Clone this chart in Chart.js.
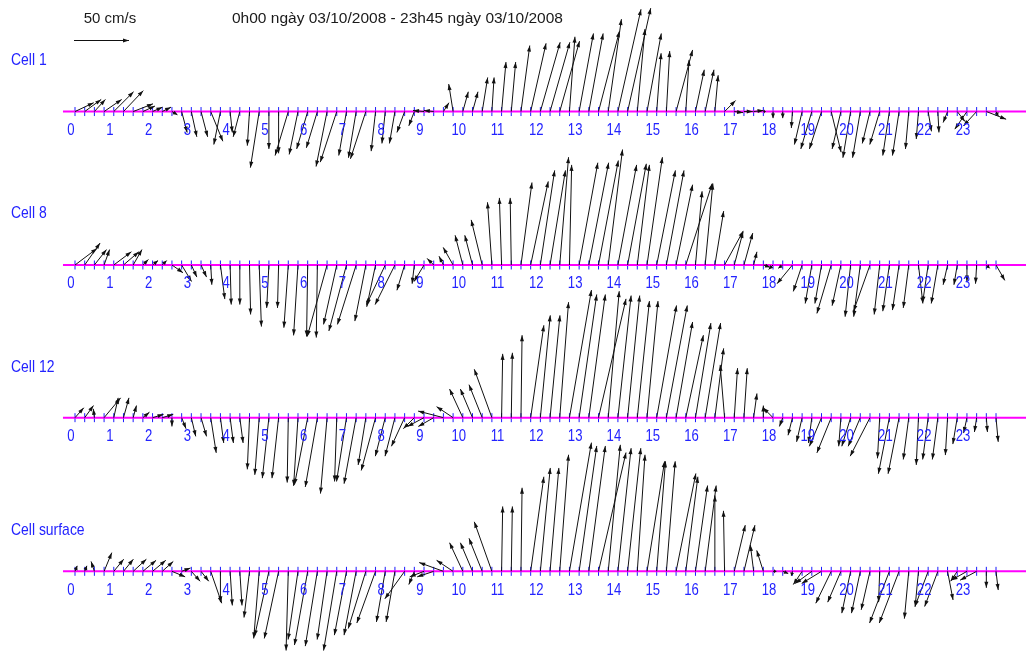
<!DOCTYPE html>
<html>
<head>
<meta charset="utf-8">
<script src="https://cdn.jsdelivr.net/npm/chart.js@4/dist/chart.umd.min.js"></script>
<style>
  html, body { margin: 0; padding: 0; background: #fff; }
</style>
</head>
<body>
<canvas id="chart" width="1026" height="651"></canvas>
<script>
// one sample every 15 minutes, 0h00 .. 23h45 (hours)
const times = Array.from({length: 96}, (_, i) => i / 4);
const hourLabels = ['0','1','2','3','4','5','6','7','8','9','10','11','12','13','14','15','16','17','18','19','20','21','22','23'];
const cellNames = ['Cell 1', 'Cell 8', 'Cell 12', 'Cell surface'];
const title = '0h00 ngày 03/10/2008 - 23h45 ngày 03/10/2008';
const refSpeed = 50; // cm/s

// east (u) and north (v) components, cm/s
const uCell1 = [17,15,10,16,18,18,18,11,9,8,5,5,5,6,11,-6,2,-6,-2,-8,0,0,-12,-8,-10,-10,-10,-15,-7,-7,-14,-4,-3,-5,-7,-5,-10,-9,5,-4,5,5,5,2,4,4,8,14,18,18,18,5,13,13,19,12,21,21,7,13,4,3,15,3,8,8,3,10,8,8,9,2,0,0,-1,-7,-10,-11,9,-8,-7,-7,-7,-9,-6,-6,-3,-2,3,1,-4,7,-11,-12,18,2];
const vCell1 = [8,11,11,11,18,19,7,5,4,4,-3,-19,-23,-23,-27,-30,-19,-23,-31,-51,-34,-38,-40,-39,-34,-33,-50,-46,-40,-42,-43,-36,-29,-29,-19,-13,1,1,8,25,18,18,31,31,45,45,60,62,63,63,64,68,71,71,73,84,93,94,75,71,53,55,56,47,38,38,33,10,-1,0,1,0,-6,-6,-15,-30,-34,-34,-37,-34,-42,-42,-29,-30,-40,-40,-34,-25,-18,-19,-10,-9,-16,-13,-7,-4];

const uCell8 = [20,14,11,5,16,14,8,5,5,4,10,9,5,5,1,4,1,0,1,2,-2,-1,-4,-4,-1,-1,-18,-12,-16,-17,-10,-8,-17,-18,-7,-2,-9,-6,-4,-9,-7,-7,-10,-4,-2,-1,10,16,13,14,8,2,17,18,18,13,17,17,11,14,17,16,15,24,6,7,8,17,8,8,3,6,-4,-4,-14,-8,-6,-6,-13,-8,-5,-6,-15,-5,-6,-6,-5,4,-5,-6,-4,-3,0,-1,3,8];
const vCell8 = [15,20,14,14,12,12,14,5,4,4,-7,-15,-11,-11,-18,-31,-36,-36,-45,-56,-39,-39,-57,-64,-65,-66,-65,-54,-60,-54,-51,-38,-36,-36,-23,-17,-15,6,8,16,27,27,41,57,61,61,75,76,86,86,98,91,93,93,95,105,91,92,91,98,86,86,73,74,67,74,49,31,30,29,12,-2,-4,-3,-17,-24,-35,-35,-44,-37,-47,-47,-42,-45,-42,-41,-39,-35,-34,-35,-18,-18,-15,-17,-3,-14];

const uCell12 = [8,8,-1,15,4,5,3,6,10,10,0,4,4,5,5,3,3,3,-2,-4,-6,-6,-1,-4,-12,-11,-6,-2,-9,-11,-7,-13,-9,-9,-12,-10,-15,-14,-23,-15,-12,-11,-12,-16,1,1,1,12,9,9,8,20,16,15,25,10,12,11,11,10,18,19,15,16,14,14,8,-4,3,3,3,0,-9,-3,-4,-5,-3,-11,-13,-2,-8,-11,-18,-2,-10,-10,-5,-2,-5,-5,-2,-4,-3,-2,1,2];
const vCell12 = [9,11,8,18,18,18,11,5,3,3,-8,-10,-17,-17,-32,-23,-23,-23,-47,-52,-55,-55,-59,-62,-61,-63,-69,-58,-58,-60,-43,-48,-35,-35,-26,-10,-8,-8,6,10,26,26,30,44,58,59,75,84,93,93,105,116,112,112,108,115,111,111,106,106,102,102,87,75,86,86,63,48,45,45,22,11,9,-8,-16,-22,-23,-26,-32,-26,-26,-26,-35,-37,-51,-51,-38,-43,-38,-38,-34,-24,-14,-13,-13,-22];

const uSurface = [2,2,-3,7,9,9,12,12,12,10,12,8,8,7,10,0,2,2,-5,-5,-13,-13,-2,-9,-12,-11,-9,-12,-11,-11,-16,-17,-8,-8,-18,-5,-13,-15,-22,-15,-12,-11,-12,-16,1,1,1,12,9,8,8,20,16,15,25,11,12,12,7,16,8,8,18,11,11,10,0,-1,10,10,-3,-6,3,5,-1,-8,-15,-18,-14,-12,-8,-8,-8,-1,-18,-18,-4,-3,-12,-12,5,-6,-14,-15,0,2];
const vSurface = [5,5,9,17,11,11,11,10,10,9,-5,3,-9,-9,-29,-28,-31,-31,-42,-61,-59,-61,-72,-62,-67,-68,-62,-72,-58,-58,-52,-47,-46,-46,-25,-12,-5,-5,8,10,26,26,30,45,59,59,76,86,94,94,106,117,114,114,108,115,112,112,106,100,100,100,89,86,78,78,69,55,42,42,24,19,0,-2,-4,-12,-11,-11,-29,-28,-38,-38,-35,-28,-47,-47,-43,-32,-32,-32,-26,-9,-8,-8,-15,-17];

const series = [
  {u: uCell1, v: vCell1},
  {u: uCell8, v: vCell8},
  {u: uCell12, v: vCell12},
  {u: uSurface, v: vSurface}
];

// y axis in cm/s (1 cm/s = 1.1 px), each row sits on its own baseline
const rowBase = [-101.4, -240.9, -379.7, -519.4];
const labelY = [60, 213, 367, 530];

function drawArrow(ctx, x0, y0, x1, y1) {
  const dx = x1 - x0, dy = y1 - y0;
  const len = Math.hypot(dx, dy);
  if (len < 0.5) return;
  const ux = dx / len, uy = dy / len;
  const hl = Math.min(6, len * 0.7), hw = 2;
  ctx.beginPath();
  ctx.moveTo(x0, y0);
  ctx.lineTo(x1, y1);
  ctx.stroke();
  ctx.beginPath();
  ctx.moveTo(x1, y1);
  ctx.lineTo(x1 - ux * hl - uy * hw, y1 - uy * hl + ux * hw);
  ctx.lineTo(x1 - ux * hl + uy * hw, y1 - uy * hl - ux * hw);
  ctx.closePath();
  ctx.fill();
}

function narrowText(ctx, text, x, y, size, align, color) {
  ctx.save();
  ctx.translate(x, y);
  ctx.scale(0.82, 1);
  ctx.font = size + 'px "Liberation Sans", Arial, sans-serif';
  ctx.fillStyle = color;
  ctx.textAlign = align;
  ctx.textBaseline = 'middle';
  ctx.fillText(text, 0, 0);
  ctx.restore();
}

const stickPlot = {
  id: 'stickPlot',
  afterDatasetsDraw(chart) {
    const {ctx, scales: {x, y}} = chart;
    const k = Math.abs(y.getPixelForValue(0) - y.getPixelForValue(1)); // px per cm/s
    ctx.save();
    ctx.lineWidth = 1;
    ctx.strokeStyle = '#111';
    ctx.fillStyle = '#111';
    series.forEach((s, r) => {
      const by = y.getPixelForValue(rowBase[r]);
      times.forEach((t, i) => {
        const bx = x.getPixelForValue(t);
        drawArrow(ctx, bx, by, bx + s.u[i] * k, by - s.v[i] * k);
      });
    });
    // reference arrow
    drawArrow(ctx, 74, 40.5, 74 + refSpeed * k, 40.5);
    ctx.restore();

    series.forEach((s, r) => {
      const by = y.getPixelForValue(rowBase[r]);
      hourLabels.forEach((lab, h) => {
        narrowText(ctx, lab, x.getPixelForValue(h) - 4, by + 19, 16, 'center', '#2323ff');
      });
      narrowText(ctx, cellNames[r], 11, labelY[r], 17, 'left', '#2323ff');
    });

    ctx.save();
    ctx.fillStyle = '#1a1a1a';
    ctx.textBaseline = 'middle';
    ctx.font = '15px "Liberation Sans", Arial, sans-serif';
    ctx.textAlign = 'center';
    ctx.fillText(refSpeed + ' cm/s', 110, 19);
    ctx.font = '15.5px "Liberation Sans", Arial, sans-serif';
    ctx.textAlign = 'left';
    ctx.fillText(title, 232, 19);
    ctx.restore();
  }
};

const datasets = [];
rowBase.forEach((b) => {
  datasets.push({
    data: [{x: -0.31, y: b}, {x: 24.6, y: b}],
    borderColor: '#ff00ff',
    borderWidth: 2,
    pointRadius: 0
  });
});
rowBase.forEach((b) => {
  datasets.push({
    data: times.map(t => ({x: t, y: b})),
    showLine: false,
    pointStyle: 'line',
    rotation: 90,
    pointRadius: 4.5,
    borderColor: '#1a1aff',
    pointBorderWidth: 1
  });
});

new Chart(document.getElementById('chart'), {
  type: 'line',
  data: {datasets: datasets},
  options: {
    responsive: false,
    animation: false,
    events: [],
    layout: {padding: 0, autoPadding: false},
    plugins: {legend: {display: false}, tooltip: {enabled: false}},
    scales: {
      x: {type: 'linear', min: -1.934, max: 24.523, display: false},
      y: {type: 'linear', min: -591.82, max: 0, display: false}
    }
  },
  plugins: [stickPlot]
});
</script>
</body>
</html>
